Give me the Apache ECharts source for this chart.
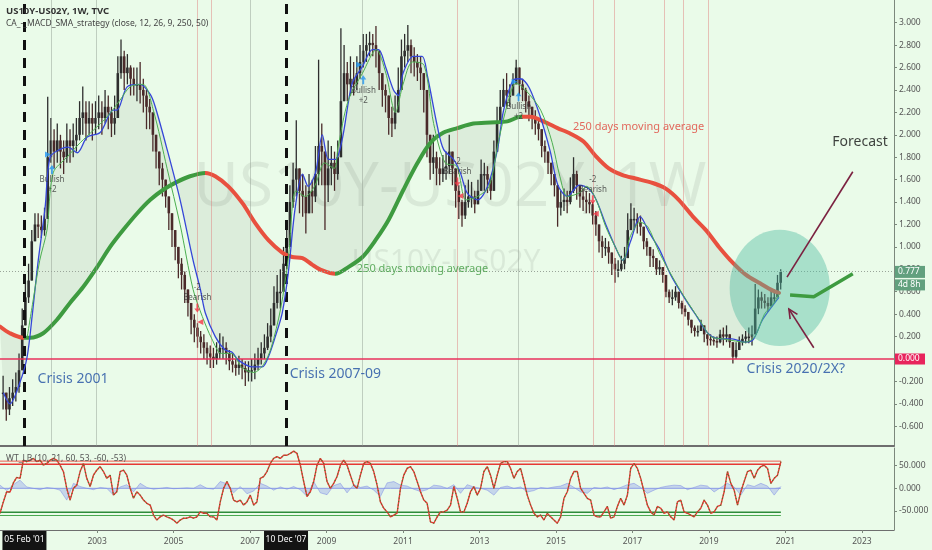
<!DOCTYPE html>
<html><head><meta charset="utf-8">
<script src="https://cdn.jsdelivr.net/npm/echarts@6/dist/echarts.min.js"></script>
<style>html,body{margin:0;padding:0;background:#eafbe9;}#c{width:932px;height:550px;}</style>
</head><body><div id="c"></div>
<script>
// ---------------- DATA ----------------
const FIRST_MONTH = 2000.5; // Jul 2000, one value per month
const closes = [
-0.30,-0.45,-0.35,-0.30,-0.25,-0.10,
0.30,0.55,0.70,1.05,1.20,1.18,1.15,1.25,1.80,1.95,1.85,1.95,
1.85,1.80,1.95,1.90,1.95,2.00,2.15,2.20,2.10,2.15,2.10,2.15,
2.20,2.15,2.25,2.20,2.10,2.15,2.55,2.70,2.55,2.60,2.50,2.45,
2.45,2.40,2.35,2.25,2.20,2.00,1.85,1.70,1.60,1.45,1.30,1.15,
1.00,0.85,0.75,0.62,0.50,0.35,0.28,0.20,0.15,0.10,0.05,0.02,
0.00,0.05,0.10,0.10,0.05,-0.02,-0.05,-0.08,-0.05,-0.08,-0.12,-0.10,
-0.10,-0.05,0.00,0.05,0.10,0.20,0.30,0.50,0.60,0.60,0.85,1.00,
1.40,1.60,1.70,1.50,1.45,1.30,1.50,1.45,1.65,1.90,1.85,1.55,
1.70,1.75,1.65,1.80,2.30,2.55,2.45,2.50,2.45,2.55,2.65,2.75,
2.80,2.82,2.80,2.75,2.55,2.40,2.35,2.15,2.10,2.20,2.40,2.70,
2.75,2.80,2.70,2.65,2.60,2.55,2.40,2.00,1.75,1.80,1.70,1.65,
1.70,1.72,1.85,1.70,1.50,1.40,1.28,1.40,1.45,1.45,1.38,1.50,
1.65,1.65,1.60,1.50,1.85,2.10,2.25,2.40,2.35,2.35,2.45,2.60,
2.45,2.40,2.30,2.25,2.15,2.10,2.05,1.90,1.85,1.75,1.65,1.55,
1.35,1.40,1.42,1.40,1.50,1.65,1.55,1.45,1.42,1.40,1.38,1.28,
1.20,1.05,1.00,1.00,0.95,0.85,0.80,0.80,0.85,0.90,1.15,1.25,
1.25,1.22,1.18,1.05,1.00,0.92,0.90,0.80,0.82,0.75,0.60,0.55,
0.55,0.60,0.50,0.45,0.42,0.35,0.28,0.25,0.25,0.30,0.22,0.18,
0.17,0.16,0.15,0.22,0.20,0.22,0.15,0.02,0.08,0.15,0.18,0.20,
0.20,0.22,0.45,0.55,0.52,0.50,0.47,0.55,0.55,0.68,0.777];
const lows = [
-0.45,-0.55,-0.50,-0.42,-0.38,-0.30,
-0.10,0.30,0.50,0.70,1.05,1.08,1.08,1.10,1.25,1.75,1.70,1.75,
1.70,1.65,1.75,1.75,1.80,1.85,1.95,2.00,1.95,2.00,1.95,2.00,
2.05,2.00,2.10,2.05,1.98,2.00,2.20,2.50,2.40,2.45,2.35,2.35,
2.30,2.28,2.20,2.05,2.05,1.85,1.70,1.55,1.45,1.35,1.15,1.00,
0.88,0.72,0.62,0.50,0.38,0.22,0.15,0.10,0.05,0.00,-0.05,-0.08,
-0.08,-0.05,0.00,0.00,-0.05,-0.10,-0.12,-0.15,-0.14,-0.18,-0.24,-0.20,
-0.20,-0.18,-0.10,-0.05,0.00,0.08,0.15,0.30,0.45,0.45,0.60,0.80,
1.10,1.35,1.45,1.30,1.27,1.12,1.30,1.30,1.40,1.55,1.55,1.15,
1.40,1.55,1.50,1.60,1.85,2.30,2.30,2.35,2.35,2.40,2.50,2.60,
2.65,2.70,2.70,2.60,2.40,2.25,2.20,2.00,1.98,2.05,2.20,2.50,
2.60,2.65,2.55,2.52,2.48,2.40,2.20,1.80,1.60,1.65,1.55,1.55,
1.58,1.60,1.65,1.55,1.35,1.25,1.18,1.25,1.35,1.35,1.30,1.38,
1.50,1.50,1.48,1.42,1.55,1.85,2.10,2.25,2.25,2.25,2.35,2.45,
2.35,2.30,2.20,2.12,2.05,2.00,1.95,1.80,1.75,1.65,1.55,1.45,
1.18,1.28,1.32,1.30,1.38,1.48,1.42,1.35,1.32,1.30,1.30,1.20,
1.10,0.95,0.90,0.92,0.85,0.75,0.68,0.73,0.78,0.80,0.95,1.15,
1.15,1.12,1.10,0.98,0.92,0.82,0.82,0.75,0.75,0.68,0.55,0.50,
0.48,0.52,0.45,0.40,0.38,0.30,0.23,0.20,0.20,0.25,0.15,0.12,
0.12,0.12,0.10,0.14,0.12,0.15,0.10,-0.04,0.00,0.08,0.12,0.14,
0.14,0.12,0.22,0.40,0.45,0.45,0.42,0.47,0.50,0.55,0.62];
const highs = [
-0.15,-0.30,-0.25,-0.18,-0.12,0.05,
0.45,0.70,0.85,1.15,1.30,1.30,1.28,1.35,2.34,2.15,2.05,2.10,
2.00,1.95,2.10,2.05,2.10,2.15,2.30,2.43,2.30,2.30,2.28,2.30,
2.35,2.30,2.40,2.35,2.25,2.35,2.70,2.85,2.75,2.72,2.62,2.60,
2.60,2.65,2.50,2.40,2.32,2.15,2.00,1.85,1.75,1.60,1.45,1.30,
1.15,1.00,0.90,0.78,0.62,0.50,0.40,0.32,0.25,0.22,0.15,0.12,
0.10,0.15,0.23,0.20,0.15,0.08,0.05,0.00,0.03,0.00,-0.02,-0.02,
0.00,0.05,0.10,0.15,0.22,0.32,0.45,0.65,0.75,0.80,1.00,1.15,
1.55,1.75,2.13,1.70,1.65,1.55,1.65,1.60,1.90,2.67,2.10,1.80,
1.95,1.90,1.85,1.95,2.95,2.80,2.65,2.70,2.65,2.70,2.80,2.90,
2.90,2.92,2.90,2.97,2.70,2.55,2.45,2.30,2.25,2.35,2.60,2.85,
2.90,2.98,2.85,2.78,2.72,2.70,2.55,2.30,1.95,2.00,1.85,1.80,
1.82,1.85,2.00,1.82,1.65,1.55,1.42,1.55,1.60,1.58,1.50,1.60,
1.78,1.75,1.72,1.62,1.95,2.25,2.40,2.50,2.55,2.45,2.55,2.67,
2.60,2.50,2.42,2.35,2.25,2.22,2.15,2.00,1.95,1.85,1.75,1.65,
1.50,1.50,1.52,1.50,1.62,1.80,1.68,1.55,1.52,1.50,1.48,1.40,
1.32,1.18,1.10,1.08,1.05,0.95,0.90,0.88,0.92,1.00,1.30,1.39,
1.35,1.30,1.28,1.15,1.08,1.00,0.98,0.90,0.88,0.82,0.70,0.62,
0.62,0.65,0.58,0.52,0.48,0.40,0.33,0.30,0.30,0.35,0.28,0.22,
0.22,0.20,0.20,0.26,0.28,0.30,0.22,0.12,0.15,0.20,0.22,0.25,
0.28,0.30,0.67,0.62,0.60,0.58,0.55,0.62,0.62,0.75,0.80];

// 250-period moving average [year, value]
const ma250 = [[2000.46,0.29],[2000.72,0.23],[2001.06,0.19],[2001.25,0.19],[2001.59,0.23],[2001.95,0.35],[2002.29,0.50],[2002.63,0.64],[2003.0,0.82],[2003.34,1.00],[2003.68,1.15],[2004.05,1.30],[2004.39,1.42],[2004.73,1.51],[2005.09,1.58],[2005.43,1.63],[2005.83,1.66],[2006.09,1.63],[2006.43,1.54],[2006.8,1.39],[2007.14,1.21],[2007.48,1.06],[2007.84,0.95],[2008.1,0.91],[2008.37,0.90],[2008.63,0.84],[2008.89,0.79],[2009.23,0.76],[2009.57,0.82],[2009.94,0.91],[2010.28,1.06],[2010.62,1.24],[2011.01,1.51],[2011.38,1.75],[2011.72,1.93],[2012.06,2.02],[2012.42,2.06],[2012.84,2.10],[2013.29,2.11],[2013.73,2.12],[2014.07,2.16],[2014.33,2.16],[2014.67,2.12],[2015.04,2.06],[2015.38,2.01],[2015.72,1.94],[2016.04,1.81],[2016.38,1.70],[2016.74,1.64],[2017.08,1.61],[2017.53,1.57],[2017.87,1.52],[2018.21,1.42],[2018.58,1.27],[2018.92,1.15],[2019.26,1.00],[2019.62,0.86],[2019.97,0.75],[2020.31,0.68],[2020.67,0.61],[2020.83,0.59]];
// slow MACD-SMA line (blue / red)
const slowLine = [[2000.55,-0.30],[2000.72,-0.40],[2000.98,-0.21],[2001.17,0.02],[2001.3,0.38],[2001.45,0.85],[2001.64,1.35],[2001.77,1.80],[2002.03,1.87],[2002.24,1.89],[2002.48,1.84],[2002.74,1.98],[2003.08,2.02],[2003.42,2.22],[2003.52,2.22],[2003.79,2.43],[2004.13,2.45],[2004.39,2.36],[2004.52,2.25],[2004.83,1.87],[2005.17,1.42],[2005.51,0.88],[2005.7,0.62],[2005.83,0.41],[2006.09,0.20],[2006.35,0.08],[2006.53,0.06],[2006.69,-0.01],[2007.06,-0.07],[2007.32,-0.07],[2007.48,0.02],[2007.66,0.20],[2007.84,0.41],[2008.0,0.77],[2008.18,1.35],[2008.37,1.65],[2008.52,1.54],[2008.71,1.66],[2008.89,2.00],[2009.05,1.78],[2009.23,1.78],[2009.41,1.96],[2009.67,2.46],[2009.94,2.61],[2010.2,2.76],[2010.36,2.76],[2010.54,2.61],[2010.75,2.40],[2010.88,2.35],[2011.0,2.55],[2011.27,2.70],[2011.5,2.70],[2011.64,2.52],[2011.9,2.07],[2012.06,1.87],[2012.32,1.78],[2012.5,1.66],[2012.68,1.48],[2012.95,1.42],[2013.21,1.54],[2013.47,1.87],[2013.63,2.22],[2013.89,2.49],[2014.07,2.50],[2014.3,2.42],[2014.6,2.15],[2014.85,1.85],[2015.05,1.55],[2015.3,1.45],[2015.6,1.55],[2015.85,1.52],[2016.05,1.42],[2016.3,1.20],[2016.55,1.00],[2016.75,0.88],[2016.95,1.05],[2017.2,1.27],[2017.45,1.12],[2017.7,0.98],[2018.0,0.75],[2018.35,0.55],[2018.7,0.37],[2019.0,0.22],[2019.3,0.18],[2019.6,0.18],[2019.95,0.15],[2020.15,0.17],[2020.4,0.35],[2020.65,0.47],[2020.83,0.55]];
// fast line (green / red)
const fastLine = [[2001.17,0.19],[2001.33,0.53],[2001.5,0.88],[2001.69,1.15],[2001.85,1.66],[2002.21,1.80],[2002.56,1.93],[2002.9,2.04],[2003.26,2.16],[2003.6,2.31],[2003.87,2.43],[2004.2,2.45],[2004.47,2.22],[2004.83,1.70],[2005.17,1.20],[2005.51,0.62],[2005.75,0.38],[2006.0,0.18],[2006.25,0.05],[2006.5,0.05],[2006.8,-0.08],[2007.1,-0.12],[2007.35,-0.05],[2007.55,0.10],[2007.8,0.45],[2008.0,0.90],[2008.2,1.50],[2008.45,1.45],[2008.7,1.55],[2008.95,1.75],[2009.2,1.70],[2009.3,1.89],[2009.57,2.31],[2009.94,2.55],[2010.3,2.76],[2010.55,2.55],[2010.8,2.20],[2011.0,2.45],[2011.25,2.65],[2011.55,2.62],[2011.8,2.10],[2012.1,1.75],[2012.4,1.72],[2012.65,1.42],[2012.95,1.45],[2013.25,1.54],[2013.5,1.95],[2013.75,2.30],[2013.95,2.46],[2014.2,2.40],[2014.6,2.22],[2014.9,1.93],[2015.1,1.63],[2015.3,1.45],[2015.6,1.48],[2015.8,1.54],[2016.05,1.42],[2016.3,1.18],[2016.55,1.00],[2016.75,0.88],[2016.95,1.10],[2017.2,1.22],[2017.4,1.18],[2017.7,0.95],[2018.05,0.73],[2018.4,0.53],[2018.75,0.35],[2019.05,0.20],[2019.35,0.18],[2019.7,0.16],[2019.95,0.15],[2020.2,0.20],[2020.45,0.40],[2020.7,0.50],[2020.83,0.58]];

// trend colouring periods
const maSegs = [[1990,2001.1,'dn'],[2001.1,2005.83,'up'],[2005.83,2009.23,'dn'],[2009.23,2014.1,'up'],[2014.1,2030,'dn']];
const slowSegs = [[1990,2014.1,'b'],[2014.1,2016.75,'r'],[2016.75,2017.25,'b'],[2017.25,2019.3,'r'],[2019.3,2030,'b']];
const fastSegs = [[1990,2004.2,'g'],[2004.2,2007.3,'r'],[2007.3,2010.4,'g'],[2010.4,2010.9,'r'],[2010.9,2011.55,'g'],[2011.55,2013.2,'r'],[2013.2,2014.1,'g'],[2014.1,2030,'r']];

// strategy signals
const signals = [
 {t:2001.82,v:1.69,kind:'bull'},{t:2009.96,v:2.49,kind:'bull'},{t:2014.02,v:2.34,kind:'bull'},
 {t:2005.62,v:0.455,kind:'bear'},{t:2012.42,v:1.58,kind:'bear'},{t:2015.96,v:1.42,kind:'bear'}];
const entryLines = [2001.796,2002.974,2007.005,2009.937,2014.021];
const exitLines = [2005.618,2005.984,2012.424,2015.984,2016.508,2017.817,2018.340,2018.995];
const crisisDates = [2001.1,2007.94];
const crisisDateLabels = ["05 Feb '01","10 Dec '07"];

// annotations
const notes = [
 {t:2002.37,v:-0.18,text:'Crisis 2001',kind:'crisis'},
 {t:2009.23,v:-0.135,text:'Crisis 2007-09',kind:'crisis'},
 {t:2021.27,v:-0.09,text:'Crisis 2020/2X?',kind:'crisis'},
 {t:2022.95,v:1.94,text:'Forecast',kind:'plain'},
 {t:2011.51,v:0.80,text:'250 days moving average',kind:'maUp'},
 {t:2017.16,v:2.07,text:'250 days moving average',kind:'maDn'}];
const forecastUp = [[2021.04,0.73],[2022.76,1.67]];
const forecastFlat = [[2021.12,0.57],[2021.74,0.555],[2022.76,0.76]];
const forecastArrow = [[2021.74,0.10],[2021.09,0.445]];
const zoneCenter = [2020.85,0.634], zoneRadius = [1.31,0.518];

const LAST = 0.777;
const priceTicks = [-0.6,-0.4,-0.2,0,0.2,0.4,0.6,0.8,1.0,1.2,1.4,1.6,1.8,2.0,2.2,2.4,2.6,2.8,3.0];
const yearTicks = [2003,2005,2007,2009,2011,2013,2015,2017,2019,2021,2023];
const wtTicks = [50,0,-50];
const obLevels = [60,53], osLevels = [-60,-53];

// WaveTrend oscillator, sampled every WT_STEP years from WT_START
const WT_START = 2000.461, WT_STEP = 0.08726;
const wt = [-55,-30,-7.5,-8,12,24,22,62,59,62,66,59,62,51,55,62,66,62,51,37,0,-26,0,7,37,55,22,4,29,40,48,37,22,29,-15,-7.5,37,40,29,0,-22,-7.5,-15,-26,-33,-37,-59,-70,-63,-59,-63,-66,-70,-77,-70,-66,-66,-63,-66,-63,-52,-55,-55,-63,-63,-70,-30,0,15,0,-26,-30,-26,-37,-30,-15,-37,-30,22,26,37,55,66,70,66,73,73,77,82,77,51,15,-18,-7.5,15,51,66,55,15,0,11,26,51,62,51,29,7,0,29,55,59,55,37,7,-30,-44,-52,-63,-59,-55,
0,29,44,48,37,15,-7.5,-26,-33,-74,-77,-63,-52,-52,-48,-37,4,-22,-52,-52,-33,-7.5,4,-15,0,37,48,29,0,29,55,59,59,44,22,37,44,15,-15,-37,-55,-63,-59,-70,-55,-63,-70,-77,-63,-22,-7.5,22,37,37,0,-11,-22,-26,-59,-63,-63,-52,-40,-66,-63,-40,-22,-37,-15,44,55,44,22,-7.5,-37,-52,-59,-40,-44,-55,-52,-63,-70,-30,-26,-52,-55,-59,-63,-52,-44,-26,-37,-55,-52,-40,-37,-7.5,37,11,-4,-37,-7.5,15,37,40,22,40,48,51,44,11,22,29,59];
// histogram, every 2 samples
const hist = [7,-5,8,18,3,0,-3,2,0,-4,-26,11,4,0,-3,2,0,-15,3,8,-8,11,2,-2,0,2,-1,0,1,0,8,0,-2,15,10,-10,4,-12,-6,11,5,-4,3,-2,4,-3,-18,15,-10,-14,6,11,-10,8,2,5,-4,-18,12,15,
7,5,-2,-7,-3,7,5,0,8,-11,8,3,0,-4,-15,2,5,0,3,-8,-5,2,0,3,5,11,2,-8,-11,2,0,3,-3,2,8,11,2,-11,-4,2,5,7,6,-3,2,7,5,-8,2,11,3,-15,8,4,11,5,-15,4];

// ---------------- CHART ----------------
const XMIN = 2000.4607, XMAX = 2023.838, YMIN = -0.776, YMAX = 3.2025;
const GREEN = '#3e9b40', RED = '#e8503f', BLUE = '#3546d8', TGREEN = '#4caf50', TRED = '#f0453a';
const FONT = '"Noto Sans", "Open Sans", sans-serif';
const n = Math.min(closes.length, lows.length, highs.length);
const candles = [];
for (let i = 0; i < n; i++) {
  const t = FIRST_MONTH + (i + 0.5) / 12;
  const o = i === 0 ? closes[0] : closes[i - 1], c = closes[i];
  candles.push([t, o, c, Math.min(lows[i], o, c), Math.max(highs[i], o, c)]);
}
const wtT = i => WT_START + i * WT_STEP;
const wtData = wt.map((v, i) => [wtT(i), v]);
const histData = hist.map((v, j) => [wtT(2 * j), v]);
const wtEnd = wtT(wt.length - 1);
const piecesOf = (segs, map) => segs.map(s => ({gte: s[0], lt: s[1], color: map[s[2]]}));

const chart = echarts.init(document.getElementById('c'), null, {renderer: 'canvas'});
const axisCol = '#7c887c', labCol = '#555';
const line = (idx, data, color, width, extra) => Object.assign({type: 'line', xAxisIndex: idx, yAxisIndex: idx, data, symbol: 'none', silent: true, lineStyle: {color, width}}, extra || {});

const series = [
  // 0 fill between MA and slow line
  {type: 'custom', xAxisIndex: 0, yAxisIndex: 0, z: 1, clip: true, silent: true, data: [[2010, 1]],
   renderItem: (p, api) => {
     const pts = ma250.map(d => api.coord(d)).concat(slowLine.slice().reverse().map(d => api.coord(d)));
     return {type: 'polygon', shape: {points: pts}, style: {fill: 'rgba(60,70,60,0.075)'}};
   }},
  // 1 candles
  {type: 'custom', xAxisIndex: 0, yAxisIndex: 0, z: 3, clip: true, silent: true, data: candles,
   encode: {x: 0, y: [1, 2, 3, 4]},
   renderItem: (p, api) => {
     const t = api.value(0), o = api.value(1), c = api.value(2), l = api.value(3), h = api.value(4);
     const pl = api.coord([t, l]), ph = api.coord([t, h]), po = api.coord([t, o]), pc = api.coord([t, c]);
     const col = c >= o ? '#2e2e2e' : '#4a2a2a';
     return {type: 'group', children: [
       {type: 'line', shape: {x1: pl[0], y1: pl[1], x2: ph[0], y2: ph[1]}, style: {stroke: col, lineWidth: 1.3}},
       {type: 'rect', shape: {x: po[0] - 1.3, y: Math.min(po[1], pc[1]), width: 2.6, height: Math.max(1.5, Math.abs(po[1] - pc[1]))}, style: {fill: col}}
     ]};
   }},
  // 2 MA 250
  line(0, ma250, GREEN, 4, {z: 4, smooth: 0.3, lineStyle: {width: 4, cap: 'round', join: 'round'}}),
  // 3 slow
  line(0, slowLine, BLUE, 1.3, {z: 5, smooth: 0.3}),
  // 4 fast
  line(0, fastLine, TGREEN, 1, {z: 5, smooth: 0.3}),
  // 5 reference lines
  {type: 'line', xAxisIndex: 0, yAxisIndex: 0, data: [], z: 2, silent: true,
   markLine: {silent: true, symbol: 'none', label: {show: false}, animation: false,
     data: [].concat(
       entryLines.map(t => ({xAxis: t, lineStyle: {color: 'rgba(140,150,140,0.45)', width: 1, type: 'solid'}})),
       exitLines.map(t => ({xAxis: t, lineStyle: {color: 'rgba(225,120,120,0.45)', width: 1, type: 'solid'}})),
       crisisDates.map(t => ({xAxis: t, lineStyle: {color: '#111', width: 3, type: [10, 8]}})),
       [{yAxis: LAST, lineStyle: {color: '#9aa59a', width: 1, type: [1, 2]}},
        {yAxis: 0, lineStyle: {color: '#e8315b', width: 1.5, type: 'solid'}}]
     )}},
  // 6 zone ellipse + arrow
  {type: 'custom', xAxisIndex: 0, yAxisIndex: 0, z: 8, clip: true, silent: true, data: [[2020, 0]],
   renderItem: (p, api) => {
     const c = api.coord(zoneCenter), s = api.size(zoneRadius);
     const a = api.coord(forecastArrow[0]), b = api.coord(forecastArrow[1]);
     const ang = Math.atan2(b[1] - a[1], b[0] - a[0]), L = 10, w = 0.45;
     const h1 = [b[0] - L * Math.cos(ang - w), b[1] - L * Math.sin(ang - w)];
     const h2 = [b[0] - L * Math.cos(ang + w), b[1] - L * Math.sin(ang + w)];
     const st = {stroke: '#7b2140', lineWidth: 1.6, fill: null};
     return {type: 'group', children: [
       {type: 'ellipse', shape: {cx: c[0], cy: c[1], rx: s[0], ry: s[1]}, style: {fill: 'rgba(77,185,160,0.42)'}},
       {type: 'line', shape: {x1: a[0], y1: a[1], x2: b[0], y2: b[1]}, style: st},
       {type: 'polyline', shape: {points: [h1, b, h2]}, style: st}
     ]};
   }},
  // 7,8 forecast
  line(0, forecastUp, '#7b2140', 1.6, {z: 9}),
  line(0, forecastFlat, '#3e9b40', 3.5, {z: 9}),
  // 9 notes
  {type: 'scatter', xAxisIndex: 0, yAxisIndex: 0, z: 10, silent: true, symbolSize: 0,
   data: notes.map(d => ({value: [d.t, d.v], name: d.text, label: {
     color: {crisis: '#1f4fa3', plain: '#111', maUp: '#3e9b40', maDn: '#e0443a'}[d.kind],
     fontSize: (d.kind === 'maUp' || d.kind === 'maDn') ? 11 : 14}})),
   label: {show: true, position: 'inside', formatter: p => p.name, fontFamily: FONT}},
  // 10 signal arrows
  {type: 'scatter', xAxisIndex: 0, yAxisIndex: 0, z: 11, silent: true,
   symbol: 'path://M5 0 L10 5 L6.5 5 L6.5 11 L3.5 11 L3.5 5 L0 5 Z', symbolSize: [6, 9],
   data: signals.map(s => ({value: [s.t, s.v], symbolRotate: s.kind === 'bull' ? 0 : 180,
     itemStyle: {color: s.kind === 'bull' ? '#2196f3' : '#f23645'},
     label: {show: true, position: s.kind === 'bull' ? 'bottom' : 'top', distance: 1,
       formatter: s.kind === 'bull' ? 'Bullish\n+2' : '-2\nBearish'}})),
   label: {fontSize: 8, lineHeight: 10, color: '#333', fontFamily: FONT}},
  // 11 signal triangles
  {type: 'scatter', xAxisIndex: 0, yAxisIndex: 0, z: 11, silent: true, symbol: 'triangle', symbolSize: 6,
   data: signals.map(s => ({value: [s.t, s.v], symbolRotate: s.kind === 'bull' ? -90 : 90,
     symbolOffset: s.kind === 'bull' ? [-4, -15] : [3, 14],
     itemStyle: {color: s.kind === 'bull' ? '#2196f3' : '#f23645'}}))},
  // 12 histogram
  line(1, histData, 'rgba(110,125,230,0.55)', 0.8, {z: 2, areaStyle: {color: 'rgba(120,135,235,0.45)'}}),
  // 13 zero line lower
  line(1, [[WT_START, 0], [wtEnd, 0]], 'rgba(110,125,230,0.7)', 1, {z: 2}),
  // levels
  line(1, [[WT_START, obLevels[0]], [wtEnd, obLevels[0]]], '#f05a50', 1, {z: 3}),
  line(1, [[WT_START, obLevels[1]], [wtEnd, obLevels[1]]], '#e53935', 1.5, {z: 3}),
  line(1, [[WT_START, osLevels[0]], [wtEnd, osLevels[0]]], '#49a84f', 1, {z: 3}),
  line(1, [[WT_START, osLevels[1]], [wtEnd, osLevels[1]]], '#2e8b3a', 1.5, {z: 3}),
  // WT
  line(1, wtData, '#e53935', 1.4, {z: 4}),
  line(1, wtData, '#2f6e2f', 1, {z: 5, lineStyle: {color: '#4a7a2a', width: 1.2, type: [1, 2.5]}})
];

chart.setOption({
  animation: false,
  backgroundColor: '#eafbe9',
  textStyle: {fontFamily: FONT},
  grid: [
    {left: 0, right: 38, top: 0, height: 446, outerBoundsMode: 'none'},
    {left: 0, right: 38, top: 448, height: 82, outerBoundsMode: 'none'}
  ],
  xAxis: [
    {type: 'value', gridIndex: 0, min: XMIN, max: XMAX, axisLine: {show: true, onZero: false, lineStyle: {color: '#6e6e6e', width: 2}},
     axisTick: {show: false}, axisLabel: {show: false}, splitLine: {show: false}},
    {type: 'value', gridIndex: 1, min: XMIN, max: XMAX, axisLine: {show: true, onZero: false, lineStyle: {color: '#6e6e6e', width: 1}},
     axisTick: {show: true, customValues: yearTicks, length: 3, lineStyle: {color: axisCol}},
     axisLabel: {customValues: yearTicks, formatter: v => String(Math.round(v)), fontSize: 8.5, color: labCol, margin: 7},
     splitLine: {show: false}}
  ],
  yAxis: [
    {type: 'value', gridIndex: 0, position: 'right', min: YMIN, max: YMAX,
     axisLine: {show: true, lineStyle: {color: axisCol}},
     axisTick: {show: true, customValues: priceTicks, length: 3, lineStyle: {color: axisCol}},
     axisLabel: {customValues: priceTicks, formatter: v => v.toFixed(3), fontSize: 8.5, color: labCol, margin: 5},
     splitLine: {show: false}},
    {type: 'value', gridIndex: 1, position: 'right', min: -92, max: 89,
     axisLine: {show: true, lineStyle: {color: axisCol}},
     axisTick: {show: true, customValues: wtTicks, length: 3, lineStyle: {color: axisCol}},
     axisLabel: {customValues: wtTicks, formatter: v => v.toFixed(3), fontSize: 8.5, color: labCol, margin: 5},
     splitLine: {show: false}}
  ],
  visualMap: [
    {type: 'piecewise', show: false, seriesIndex: 2, dimension: 0, pieces: piecesOf(maSegs, {up: GREEN, dn: RED})},
    {type: 'piecewise', show: false, seriesIndex: 3, dimension: 0, pieces: piecesOf(slowSegs, {b: BLUE, r: TRED})},
    {type: 'piecewise', show: false, seriesIndex: 4, dimension: 0, pieces: piecesOf(fastSegs, {g: TGREEN, r: TRED})}
  ],
  series
});

// overlays positioned through the axes
const yLast = chart.convertToPixel({yAxisIndex: 0}, LAST);
const yZero = chart.convertToPixel({yAxisIndex: 0}, 0);
const tag = (y, h, fill, text) => [
  {type: 'rect', shape: {x: 895, y: y - h / 2, width: 30, height: h}, style: {fill}, z: 50},
  {type: 'text', x: 898, y: y, style: {text, fill: '#fff', font: '8.5px ' + FONT, textVerticalAlign: 'middle'}, z: 51}];
const g = [
  {type: 'text', x: 6, y: 6, style: {text: 'US10Y-US02Y, 1W, TVC', font: 'bold 9.5px ' + FONT, fill: '#333'}, z: 60},
  {type: 'text', x: 6, y: 19, style: {text: 'CA_-_MACD_SMA_strategy (close, 12, 26, 9, 250, 50)', font: '8.5px ' + FONT, fill: '#444'}, z: 60},
  {type: 'text', x: 6, y: 454, style: {text: 'WT_LB (10, 21, 60, 53, -60, -53)', font: '8.5px ' + FONT, fill: '#555'}, z: 60},
  {type: 'text', x: 450, y: 188, style: {text: 'US10Y-US02Y, 1W', font: '62px ' + FONT, fill: 'rgba(0,0,0,0.07)', textAlign: 'center', textVerticalAlign: 'middle'}, z: 0},
  {type: 'text', x: 446, y: 262, style: {text: 'US10Y-US02Y', font: '30px ' + FONT, fill: 'rgba(0,0,0,0.07)', textAlign: 'center', textVerticalAlign: 'middle'}, z: 0}
].concat(tag(yLast, 12, '#62a07e', LAST.toFixed(3)), tag(yLast + 13, 11, '#62a07e', '4d 8h'), tag(yZero, 11, '#e8245c', '0.000'));
crisisDates.forEach((t, i) => {
  const x = chart.convertToPixel({xAxisIndex: 1}, t);
  g.push({type: 'rect', shape: {x: x - 22, y: 531, width: 44, height: 19}, style: {fill: '#131313'}, z: 60});
  g.push({type: 'text', x: x, y: 540, style: {text: crisisDateLabels[i], fill: '#fff', font: '8.5px ' + FONT, textAlign: 'center', textVerticalAlign: 'middle'}, z: 61});
});
chart.setOption({graphic: g});
</script></body></html>
